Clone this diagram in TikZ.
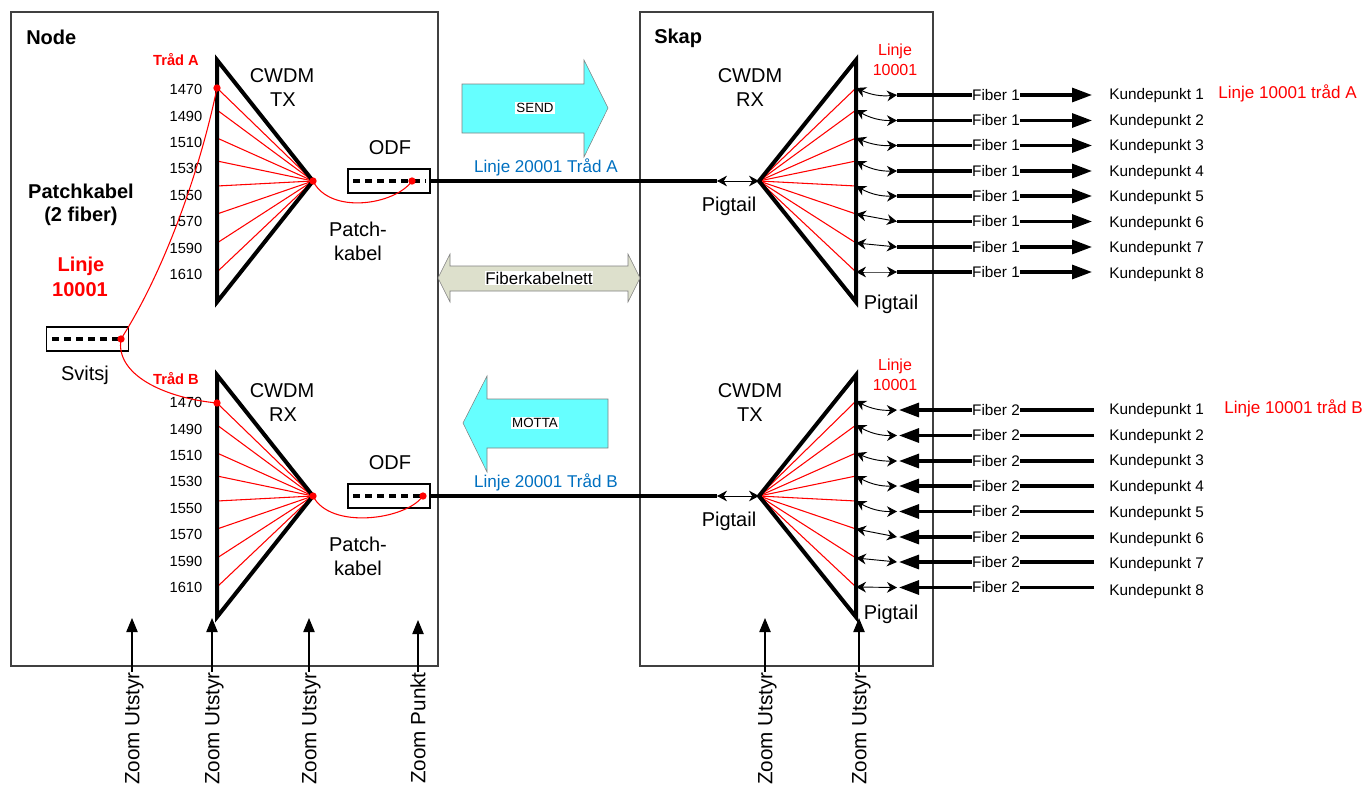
\documentclass[tikz,border=0pt]{standalone}
\usepackage{fontspec}
\setmainfont{Liberation Sans}
\usetikzlibrary{arrows.meta}
\definecolor{sendcyan}{HTML}{66FFFF}
\definecolor{cablegrey}{HTML}{DDE0CC}
\definecolor{lineblue}{HTML}{0070C0}
\begin{document}
\begin{tikzpicture}[x=0.75pt, y=-0.75pt,
    every node/.style={inner sep=0pt},
    big/.style={font=\fontsize{15}{18}\selectfont},
    bigbold/.style={font=\fontsize{15}{18}\bfseries\selectfont},
    wave/.style={font=\fontsize{11}{13}\selectfont},
    small/.style={font=\fontsize{11.5}{14}\selectfont},
    redline/.style={red, line width=0.8pt},
    reddot/.style={circle, fill=red, minimum size=5.5pt},
    mux/.style={line width=3pt, line join=miter},
    trunk/.style={line width=2.7pt},
    fiber/.style={line width=2.3pt},
    pigtail/.style={line width=0.7pt, {Stealth[length=7.5pt,width=8pt]}-{Stealth[length=7.5pt,width=8pt]}},
    bighead/.style={-{Triangle[length=15pt,width=10.5pt]}},
    zoomup/.style={line width=0.8pt, -{Triangle[length=10.5pt,width=8.5pt]}},
    portbox/.style={draw=black, line width=0.8pt, minimum width=61.5pt, minimum height=18pt},
    ports/.style={line width=2.6pt, dash pattern=on 5.5pt off 3.5pt},
    flow/.style={draw=gray, line width=0.4pt, fill=sendcyan},
    tag/.style={fill=white, inner sep=1pt}]

  \useasboundingbox (0, 0) rectangle (1363, 785);

  % Node og skap
  \draw[line width=1pt, black!75] (11, 12) rectangle (438, 666);
  \draw[line width=1pt, black!75] (640, 12) rectangle (933, 666);
  \node[bigbold, anchor=west] (nodetitle) at (26, 37) {Node};
  \node[bigbold, anchor=west] (skaptitle) at (654, 38) {Skap};

  % Piler mellom skapene
  \draw[flow] (462, 84) -- (584, 84) -- (584, 60) -- (608, 108) -- (584, 157) -- (584, 133) -- (462, 133) -- cycle;
  \draw[flow] (608, 399) -- (487, 399) -- (487, 376) -- (463, 423) -- (487, 472) -- (487, 448) -- (608, 448) -- cycle;
  \draw[flow, fill=cablegrey] (438, 278) -- (450, 254) -- (450, 266) -- (628, 266) -- (628, 254) -- (640, 278)
    -- (628, 302) -- (628, 291) -- (450, 291) -- (450, 302) -- cycle;
  \node[tag, font=\fontsize{10}{12}\selectfont] (send) at (535, 108) {SEND};
  \node[tag, font=\fontsize{10}{12}\selectfont] (motta) at (535, 423) {MOTTA};
  \node[tag, inner sep=0.5pt, font=\fontsize{12.7}{15}\selectfont] (nett) at (539, 278) {Fiberkabelnett};

  % Trad A og B, venstre og hoyre side
  \foreach \o/\s/\ltx/\rtx/\lodf in {0/A/TX/RX/412, 315/B/RX/TX/423} {

    \coordinate (apexL\s) at (313, {181+\o});
    \coordinate (apexR\s) at (759, {181+\o});

    % Rode fibre i viftene
    \foreach \i/\y in {1/88, 2/110, 3/138, 4/161, 5/186, 6/214, 7/243, 8/272} {
      \coordinate (fanL\s\i) at (217, {\y+\o});
      \coordinate (fanR\s\i) at (856, {\y+\o-(\i==1)*2*(\o>0)});
      \draw[redline] (apexL\s) -- (fanL\s\i);
      \draw[redline] (apexR\s) -- (fanR\s\i);
    }

    % Trekanter
    \draw[mux] (217, {60+\o}) -- (apexL\s) -- (217, {302+\o}) -- cycle;
    \draw[mux] (856, {60+\o}) -- (apexR\s) -- (856, {302+\o}) -- cycle;

    % ODF
    \node[portbox] (odf\s) at (389, {181+\o}) {};
    \coordinate (odfin\s) at (353, {181+\o});
    \coordinate (odfout\s) at (426, {181+\o});
    \draw[ports] (odfin\s) -- (odfout\s);
    \node[reddot] (odfdot\s) at (\lodf, {181+\o}) {};
    \node[reddot] (muxdot\s) at (apexL\s) {};
    \draw[redline] (muxdot\s.center) .. controls (330, {215+\o}) and (\lodf-17, {205+\o}) .. (odfdot\s.center);

    % Hovedfiber og pigtail
    \coordinate (trunkend\s) at (717, {181+\o});
    \draw[trunk] (odf\s.east) -- (trunkend\s);
    \draw[pigtail] (trunkend\s) -- (apexR\s);

    % Tekst
    \node[big] (cwdmL\s) at (282, {76+\o}) {CWDM};
    \node[big] (typeL\s) at (283, {100+\o}) {\ltx};
    \node[big] (cwdmR\s) at (750, {76+\o}) {CWDM};
    \node[big] (typeR\s) at (750, {100+\o}) {\rtx};
    \node[big] (odftxt\s) at (390, {148+\o}) {ODF};
    \node[big] (patch\s) at (358, {229+\o}) {Patch-};
    \node[big] (kabel\s) at (358, {253+\o}) {kabel};
    \node[big] (pigL\s) at (729, {206+\o}) {Pigtail};
    \node[big] (pigR\s) at (891, {304+\o-(\o>0)*5}) {Pigtail};
    \node[red, font=\fontsize{12}{14}\selectfont] (linje\s) at (895, {51+\o}) {Linje};
    \node[red, font=\fontsize{12}{14}\selectfont] (nummer\s) at (895, {70+\o}) {10001};
    \node[font=\fontsize{12.8}{15}\selectfont, text=lineblue] (blue\s) at (546, {167+\o}) {Linje 20001 Tråd \s};
    \node[red, font=\fontsize{11}{13}\bfseries\selectfont] (trad\s) at (176, {60+\o+(\o>0)*4}) {Tråd \s};
  }

  % Bolgelengder
  \foreach \lam/\ya/\yb in {1470/89/402, 1490/116/429, 1510/142/455, 1530/168/481, 1550/195/508, 1570/221/534, 1590/248/561, 1610/274/587} {
    \node[wave] (lamA\lam) at (186, \ya) {\lam};
    \node[wave] (lamB\lam) at (186, \yb) {\lam};
  }

  % Fiber 1, ut mot kundepunkt
  \foreach \i/\y/\yk/\b in {1/95/94/15, 2/120.5/120/15, 3/145.5/145/12, 4/171/171/15, 5/196/196/15, 6/221.5/222/0, 7/247/247/0, 8/272/273/0} {
    \node[small] (fibA\i) at (996, \y) {Fiber 1};
    \coordinate (inA\i) at (897, \y);
    \coordinate (outA\i) at (1092, \y);
    \draw[fiber] (inA\i) -- (fibA\i);
    \draw[fiber, bighead] (fibA\i) -- (outA\i);
    \draw[pigtail] (fanRA\i) to[bend right=\b] (inA\i);
    \node[small, anchor=west] (kundeA\i) at (1109, \yk+1.5) {Kundepunkt \i};
  }

  % Fiber 2, inn fra kundepunkt
  \foreach \i/\y/\yk/\b in {1/410/409/15, 2/435.5/435/15, 3/461/460/12, 4/486/486/15, 5/511.5/512/15, 6/537/538/0, 7/562/563/0, 8/587.5/590/0} {
    \node[small] (fibB\i) at (996, \y) {Fiber 2};
    \coordinate (inB\i) at (897, \y);
    \coordinate (tipB\i) at (899, \y);
    \coordinate (outB\i) at (1094, \y);
    \draw[fiber] (outB\i) -- (fibB\i);
    \draw[fiber, bighead] (fibB\i) -- (tipB\i);
    \draw[pigtail] (fanRB\i) to[bend right=\b] (inB\i);
    \node[small, anchor=west] (kundeB\i) at (1109, \yk+1.5) {Kundepunkt \i};
  }
  \node[red, font=\fontsize{12.8}{15}\selectfont, anchor=west] (kundelinjeA) at (1218, 93) {Linje 10001 tråd A};
  \node[red, font=\fontsize{12.8}{15}\selectfont, anchor=west] (kundelinjeB) at (1224, 408) {Linje 10001 tråd B};

  % Svitsj og patchkabel
  \node[bigbold] (patchkabel) at (81, 191) {Patchkabel};
  \node[bigbold] (tofiber) at (81, 216) {(2 fiber)};
  \node[red, font=\fontsize{15}{18}\bfseries\selectfont] (linje) at (81, 266) {Linje};
  \node[red, font=\fontsize{15}{18}\bfseries\selectfont] (nummer) at (80, 290) {10001};
  \node[portbox] (svitsj) at (87.5, 339) {};
  \coordinate (svitsjin) at (52, 339);
  \coordinate (svitsjout) at (118, 339);
  \draw[ports] (svitsjin) -- (svitsjout);
  \node[big] (svitsjtxt) at (85, 375) {Svitsj};
  \node[reddot] (svitsjdot) at (121, 339) {};
  \node[reddot] (dotA) at (217, 88) {};
  \node[reddot] (dotB) at (217, 403) {};
  \draw[redline] (svitsjdot.center) .. controls (165, 270) and (200, 170) .. (dotA.center);
  \draw[redline] (svitsjdot.center) .. controls (115, 375) and (165, 398) .. (dotB.center);

  % Zoom-piler
  \foreach \n/\x/\t/\txt in {a/132/618/Zoom Utstyr, b/212/618/Zoom Utstyr, c/309/618/Zoom Utstyr, d/418/620/Zoom Punkt, e/765/618/Zoom Utstyr, f/859/618/Zoom Utstyr} {
    \node[font=\fontsize{15.5}{18}\selectfont, text height=11pt, text depth=0pt, rotate=90, anchor=east] (zoom\n) at (\x, 672) {\txt};
    \coordinate (tip\n) at (\x, \t);
    \draw[zoomup] (zoom\n.east) -- (tip\n);
  }

\end{tikzpicture}
\end{document}
